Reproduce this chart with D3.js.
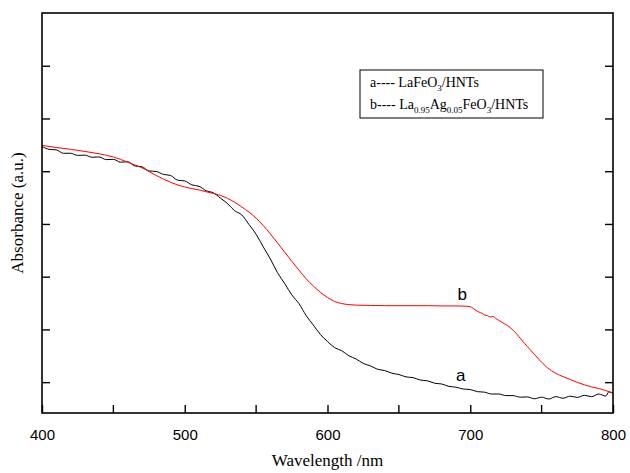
<!DOCTYPE html>
<html>
<head>
<meta charset="utf-8">
<script src="https://cdn.jsdelivr.net/npm/d3@7"></script>
<style>
	body { margin: 0; background: #fff; }
	svg { display: block; }
</style>
</head>
<body>
<div id="chart"></div>
<script>
// curve a: LaFeO3/HNTs (black)
const waveA = [400, 405, 410, 415, 420, 425, 430, 435, 440, 445, 450, 455, 460, 465, 470, 475, 480, 485, 490, 495,
	500, 505, 510, 515, 520, 525, 530, 535, 540, 545, 550, 555, 560, 565, 570, 575, 580, 585, 590, 595,
	600, 605, 610, 615, 620, 625, 630, 635, 640, 645, 650, 655, 660, 665, 670, 675, 680, 685, 690, 695,
	700, 705, 710, 715, 720, 725, 730, 735, 740, 745, 750, 755, 760, 765, 770, 775, 780, 785, 790, 795, 797, 800]
const absA = [1.294, 1.283, 1.281, 1.268, 1.268, 1.260, 1.261, 1.253, 1.254, 1.244, 1.245, 1.234, 1.236, 1.220, 1.217, 1.201, 1.199, 1.188, 1.184, 1.166,
	1.163, 1.148, 1.143, 1.126, 1.118, 1.098, 1.077, 1.050, 1.034, 0.998, 0.961, 0.913, 0.867, 0.815, 0.774, 0.731, 0.698, 0.653, 0.617, 0.581,
	0.554, 0.531, 0.519, 0.500, 0.488, 0.471, 0.462, 0.449, 0.444, 0.434, 0.429, 0.420, 0.417, 0.408, 0.405, 0.396, 0.393, 0.384, 0.381, 0.374,
	0.372, 0.364, 0.362, 0.355, 0.355, 0.349, 0.349, 0.343, 0.344, 0.337, 0.343, 0.336, 0.345, 0.339, 0.347, 0.342, 0.350, 0.345, 0.355, 0.347, 0.363, 0.359]

// curve b: La0.95Ag0.05FeO3/HNTs (red)
const waveB = [400, 410, 420, 430, 440, 450, 455, 460, 465, 470, 475, 480, 485, 490, 495, 500, 505, 510, 515, 520,
	525, 530, 535, 540, 545, 550, 555, 560, 565, 570, 575, 580, 585, 590, 595, 600, 605, 610, 615, 620, 630,
	640, 650, 660, 670, 680, 690, 697, 700, 702, 704, 706, 708, 710, 712, 714, 716, 718, 720, 722, 724,
	726, 728, 730, 732, 734, 736, 738, 740, 742, 745, 748, 751, 754, 757, 760, 765, 770, 775, 780, 785, 790, 795, 800]
const absB = [1.298, 1.290, 1.283, 1.275, 1.266, 1.254, 1.245, 1.234, 1.224, 1.213, 1.199, 1.184, 1.170, 1.158, 1.148, 1.140, 1.134, 1.129, 1.122, 1.116,
	1.108, 1.097, 1.082, 1.064, 1.045, 1.022, 0.994, 0.962, 0.928, 0.893, 0.858, 0.825, 0.792, 0.765, 0.741, 0.721, 0.706, 0.698, 0.694, 0.692, 0.691,
	0.690, 0.690, 0.690, 0.690, 0.689, 0.689, 0.688, 0.686, 0.680, 0.672, 0.666, 0.662, 0.655, 0.652, 0.647, 0.649, 0.641, 0.634, 0.628, 0.621,
	0.615, 0.607, 0.597, 0.586, 0.573, 0.560, 0.547, 0.535, 0.523, 0.505, 0.487, 0.470, 0.455, 0.443, 0.433, 0.421, 0.410, 0.399, 0.390, 0.382, 0.376, 0.368, 0.358]

const xTicks = [400, 500, 600, 700, 800]
const xMinor = [450, 550, 650, 750]
const yTicks = [0.4, 0.6, 0.8, 1.0, 1.2, 1.4, 1.6]

const width = 630
const height = 473
const margin = { top: 13, right: 17, bottom: 60, left: 42 }
const iw = width - margin.left - margin.right
const ih = height - margin.top - margin.bottom

const x = d3.scaleLinear().domain([400, 800]).range([0, iw])
const y = d3.scaleLinear().domain([0.283, 1.8]).range([ih, 0])

const svg = d3.select('#chart').append('svg').attr('width', width).attr('height', height)
const g = svg.append('g').attr('transform', `translate(${margin.left},${margin.top})`)

const line = d3
	.line()
	.x(d => x(d[0]))
	.y(d => y(d[1]))
	.curve(d3.curveMonotoneX)

//curves
g.append('path')
	.datum(waveA.map((w, i) => [w, absA[i]]))
	.attr('fill', 'none')
	.attr('stroke', '#000')
	.attr('stroke-width', 1)
	.attr('d', line)

g.append('path')
	.datum(waveB.map((w, i) => [w, absB[i]]))
	.attr('fill', 'none')
	.attr('stroke', '#ff0000')
	.attr('stroke-width', 1)
	.attr('d', line)

//frame
g.append('rect')
	.attr('width', iw)
	.attr('height', ih)
	.attr('fill', 'none')
	.attr('stroke', '#000')
	.attr('stroke-width', 1.6)

//bottom axis, ticks pointing inward
const xAxis = g
	.append('g')
	.attr('transform', `translate(0,${ih})`)
	.call(d3.axisBottom(x).tickValues(xTicks).tickSizeInner(-8).tickSizeOuter(0).tickPadding(16).tickFormat(d3.format('d')))
xAxis.select('.domain').remove()
xAxis.selectAll('line').attr('stroke-width', 1.4)
xAxis.selectAll('text').attr('font-family', 'Liberation Sans, Arial, sans-serif').attr('font-size', 15).attr('fill', '#000')

g.append('g')
	.attr('transform', `translate(0,${ih})`)
	.selectAll('line')
	.data(xMinor)
	.enter()
	.append('line')
	.attr('x1', d => x(d))
	.attr('x2', d => x(d))
	.attr('y1', 0)
	.attr('y2', -8)
	.attr('stroke', '#000')
	.attr('stroke-width', 1.4)

//left and right ticks, no labels
const yAxisL = g.append('g').call(d3.axisLeft(y).tickValues(yTicks).tickSizeInner(-8).tickSizeOuter(0).tickFormat(''))
yAxisL.select('.domain').remove()
yAxisL.selectAll('line').attr('stroke-width', 1.4)

const yAxisR = g
	.append('g')
	.attr('transform', `translate(${iw},0)`)
	.call(d3.axisRight(y).tickValues(yTicks).tickSizeInner(-8).tickSizeOuter(0).tickFormat(''))
yAxisR.select('.domain').remove()
yAxisR.selectAll('line').attr('stroke-width', 1.4)

//axis titles
svg.append('text')
	.attr('x', margin.left + iw / 2)
	.attr('y', 466)
	.attr('text-anchor', 'middle')
	.attr('font-family', 'Liberation Serif, Times New Roman, serif')
	.attr('font-size', 17)
	.text('Wavelength /nm')

svg.append('text')
	.attr('transform', `translate(23,${margin.top + ih / 2}) rotate(-90)`)
	.attr('text-anchor', 'middle')
	.attr('font-family', 'Liberation Serif, Times New Roman, serif')
	.attr('font-size', 17)
	.text('Absorbance (a.u.)')

//curve labels
const labelFont = 'Liberation Sans, Arial, sans-serif'
g.append('text')
	.attr('x', x(691))
	.attr('y', y(0.689) - 6)
	.attr('font-family', labelFont)
	.attr('font-size', 17)
	.text('b')
g.append('text')
	.attr('x', x(690))
	.attr('y', y(0.381) - 6)
	.attr('font-family', labelFont)
	.attr('font-size', 17)
	.text('a')

//legend
const legend = svg.append('g').attr('transform', 'translate(360,70)')
legend
	.append('rect')
	.attr('width', 183)
	.attr('height', 48)
	.attr('fill', '#fff')
	.attr('stroke', '#000')
	.attr('stroke-width', 1)

const serif = 'Liberation Serif, Times New Roman, serif'
const l1 = legend.append('text').attr('x', 10).attr('y', 17).attr('font-family', serif).attr('font-size', 14)
l1.append('tspan').text('a---- LaFeO')
l1.append('tspan').attr('font-size', 9).attr('dy', 4).text('3')
l1.append('tspan').attr('dy', -4).text('/HNTs')

const l2 = legend.append('text').attr('x', 10).attr('y', 39).attr('font-family', serif).attr('font-size', 14)
l2.append('tspan').text('b---- La')
l2.append('tspan').attr('font-size', 9).attr('dy', 4).text('0.95')
l2.append('tspan').attr('dy', -4).text('Ag')
l2.append('tspan').attr('font-size', 9).attr('dy', 4).text('0.05')
l2.append('tspan').attr('dy', -4).text('FeO')
l2.append('tspan').attr('font-size', 9).attr('dy', 4).text('3')
l2.append('tspan').attr('dy', -4).text('/HNTs')
</script>
</body>
</html>
